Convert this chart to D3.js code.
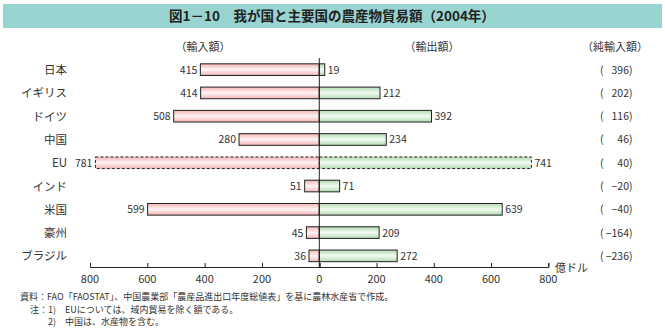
<!DOCTYPE html>
<html><head><meta charset="utf-8">
<script src="https://cdn.jsdelivr.net/npm/d3@7"></script>
<style>
body{margin:0;background:#fff;}
svg text{font-family:"Noto Sans CJK JP","Noto Sans",sans-serif;}
</style></head>
<body>
<svg id="c" width="665" height="330"></svg>
<script>
const countries = ["日本","イギリス","ドイツ","中国","EU","インド","米国","豪州","ブラジル"];
const imports = [415,414,508,280,781,51,599,45,36];
const exports = [19,212,392,234,741,71,639,209,272];
const netImports = [396,202,116,46,40,-20,-40,-164,-236];
const dashed = [false,false,false,false,true,false,false,false,false];
const ticks = [800,600,400,200,0];

const svg = d3.select("#c");
const defs = svg.append("defs");
function grad(id, edge, mid){
  const g = defs.append("linearGradient").attr("id",id).attr("x1",0).attr("y1",0).attr("x2",0).attr("y2",1);
  g.append("stop").attr("offset","0%").attr("stop-color",edge);
  g.append("stop").attr("offset","50%").attr("stop-color",mid);
  g.append("stop").attr("offset","100%").attr("stop-color",edge);
}
grad("gp","#f3b3b3","#fff4f4");
grad("gg","#b3d9b3","#f2faf2");

// title bar
svg.append("rect").attr("x",3).attr("y",4).attr("width",659).attr("height",24).attr("fill","#98d5d0");
svg.append("text").attr("x",332).attr("y",21).attr("text-anchor","middle")
  .attr("font-size",13.5).attr("font-weight","bold").attr("fill","#222")
  .text("図1－10　我が国と主要国の農産物貿易額（2004年）");

// headers
const hdr = [["（輸入額）",203],["（輸出額）",432],["（純輸入額）",615]];
hdr.forEach(h=>svg.append("text").attr("x",h[1]).attr("y",51).attr("text-anchor","middle")
  .attr("font-size",11).attr("fill","#333").text(h[0]));

const zero = 319.3;
const xL = d3.scaleLinear().domain([0,800]).range([zero,90]);
const xR = d3.scaleLinear().domain([0,800]).range([zero,548.3]);
const y = d3.scaleBand().domain(countries).range([58,267.5]).paddingInner(0.5).paddingOuter(0.25);
const bh = y.bandwidth();
const cy = d => y(d)+bh/2;

const g = svg.append("g");
countries.forEach((c,i)=>{
  const yy = y(c);
  g.append("rect").attr("x",xL(imports[i])).attr("y",yy).attr("width",zero-xL(imports[i])).attr("height",bh)
    .attr("fill","url(#gp)").attr("stroke","#222").attr("stroke-width",1)
    .attr("stroke-dasharray",dashed[i]?"3,2":null);
  g.append("rect").attr("x",zero).attr("y",yy).attr("width",xR(exports[i])-zero).attr("height",bh)
    .attr("fill","url(#gg)").attr("stroke","#222").attr("stroke-width",1)
    .attr("stroke-dasharray",dashed[i]?"3,2":null);
  g.append("text").attr("x",xL(imports[i])-3).attr("y",cy(c)+4).attr("text-anchor","end")
    .attr("font-size",10.5).attr("fill","#333").attr("font-family","Liberation Sans, Arial").text(imports[i]);
  g.append("text").attr("x",xR(exports[i])+3).attr("y",cy(c)+4).attr("text-anchor","start")
    .attr("font-size",10.5).attr("fill","#333").attr("font-family","Liberation Sans, Arial").text(exports[i]);
  g.append("text").attr("x",67).attr("y",cy(c)+4.5).attr("text-anchor","end")
    .attr("font-size",11.5).attr("fill","#333").text(c);
  // net
  g.append("text").attr("x",600).attr("y",cy(c)+4).attr("font-size",10.5).attr("fill","#333")
    .attr("font-family","Liberation Sans, Arial").text("(");
  g.append("text").attr("x",629).attr("y",cy(c)+4).attr("text-anchor","end").attr("font-size",10.5).attr("fill","#333")
    .attr("font-family","Liberation Sans, Arial").text(netImports[i]<0?"−"+Math.abs(netImports[i]):netImports[i]);
  g.append("text").attr("x",629).attr("y",cy(c)+4).attr("font-size",10.5).attr("fill","#333")
    .attr("font-family","Liberation Sans, Arial").text(")");
});

// zero line
svg.append("line").attr("x1",zero).attr("x2",zero).attr("y1",58).attr("y2",267).attr("stroke","#222").attr("stroke-width",1);

// axes
const axY = 267;
const axL = svg.append("g").attr("transform",`translate(0,${axY})`)
  .call(d3.axisTop(xL).tickValues(ticks).tickSize(4).tickFormat(""));
const axR = svg.append("g").attr("transform",`translate(0,${axY})`)
  .call(d3.axisTop(xR).tickValues(ticks).tickSize(4).tickFormat(""));
[axL,axR].forEach(a=>{a.selectAll("path,line").attr("stroke","#222");});
ticks.forEach(t=>{
  svg.append("text").attr("x",xL(t)).attr("y",283).attr("text-anchor","middle").attr("font-size",11)
    .attr("fill","#333").attr("font-family","Liberation Sans, Arial").text(t);
  if(t>0) svg.append("text").attr("x",xR(t)).attr("y",283).attr("text-anchor","middle").attr("font-size",11)
    .attr("fill","#333").attr("font-family","Liberation Sans, Arial").text(t);
});
svg.append("text").attr("x",555).attr("y",272).attr("font-size",11).attr("fill","#333").text("億ドル");

// notes
const notes = [["資料：FAO「FAOSTAT」、中国農業部「農産品進出口年度総値表」を基に農林水産省で作成。",20,300],
  ["注：1)　EUについては、域内貿易を除く額である。",30,312.5],
  ["2)　中国は、水産物を含む。",48,325]];
notes.forEach(n=>svg.append("text").attr("x",n[1]).attr("y",n[2]).attr("font-size",9).attr("fill","#333").text(n[0]));
</script>
</body></html>
